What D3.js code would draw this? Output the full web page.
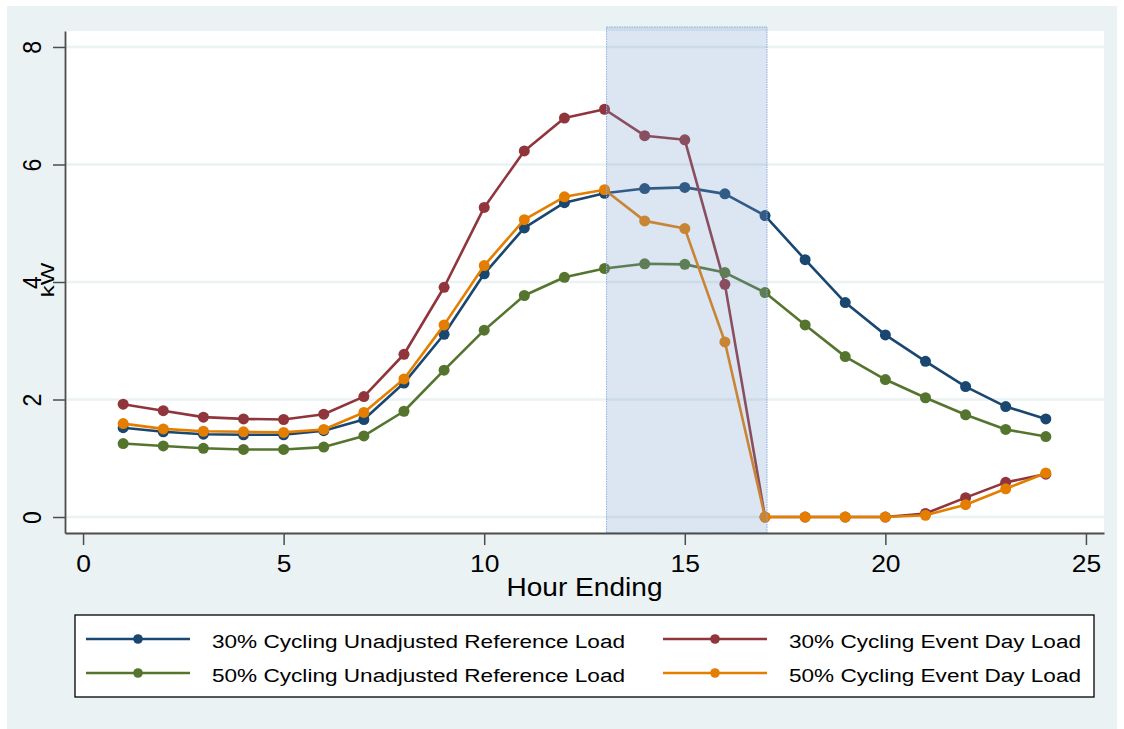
<!DOCTYPE html>
<html>
<head>
<meta charset="utf-8">
<script src="https://cdn.jsdelivr.net/npm/d3@7"></script>
<style>
  html, body { margin: 0; padding: 0; background: #ffffff; }
  svg { display: block; font-family: "Liberation Sans", Arial, sans-serif; }
</style>
</head>
<body>
<svg id="chart" width="1124" height="729"></svg>
<script>
// =======================
//  Data
// =======================

var hours = d3.range(1, 25);

var ref30   = [1.52, 1.45, 1.41, 1.40, 1.40, 1.47, 1.66, 2.28, 3.11, 4.14, 4.92, 5.35, 5.51, 5.59, 5.61, 5.50, 5.13, 4.38, 3.65, 3.10, 2.65, 2.22, 1.88, 1.67];
var event30 = [1.92, 1.81, 1.70, 1.67, 1.66, 1.75, 2.05, 2.77, 3.91, 5.27, 6.23, 6.79, 6.94, 6.49, 6.42, 3.96, 0, 0, 0, 0, 0.06, 0.33, 0.59, 0.73];
var ref50   = [1.25, 1.21, 1.17, 1.15, 1.15, 1.19, 1.38, 1.80, 2.50, 3.18, 3.77, 4.08, 4.23, 4.31, 4.30, 4.16, 3.82, 3.27, 2.73, 2.34, 2.03, 1.74, 1.49, 1.37];
var event50 = [1.59, 1.50, 1.46, 1.45, 1.44, 1.49, 1.78, 2.35, 3.27, 4.28, 5.06, 5.45, 5.57, 5.04, 4.91, 2.98, 0, 0, 0, 0, 0.03, 0.21, 0.48, 0.75];

var seriesNames = [
    "30% Cycling Unadjusted Reference Load",
    "30% Cycling Event Day Load",
    "50% Cycling Unadjusted Reference Load",
    "50% Cycling Event Day Load"
];
var seriesValues = [ref30, event30, ref50, event50];
var seriesColors = ["#1a476f", "#90353b", "#55752f", "#e37e00"];

var xTicks = [0, 5, 10, 15, 20, 25];
var yTicks = [0, 2, 4, 6, 8];

// event window shading (hours 13-17)
var shadeStart = 13.05, shadeEnd = 17.05, shadeLow = -0.272, shadeHigh = 8.34;

// =======================
//  Layout
// =======================

var svg = d3.select("#chart");
var plotL = 65, plotR = 1104, plotT = 31, plotB = 533;
var bgColor = "#eaf2f3";

var x = d3.scaleLinear().domain([-0.45, 25.45]).range([plotL, plotR]);
var y = d3.scaleLinear().domain([-0.272, 8.272]).range([plotB, plotT]);

// outer background and plot region
svg.append("rect")
    .attr("x", 7).attr("y", 6)
    .attr("width", 1110).attr("height", 723)
    .style("fill", bgColor);

svg.append("rect")
    .attr("x", plotL).attr("y", plotT)
    .attr("width", plotR - plotL).attr("height", plotB - plotT)
    .style("fill", "#ffffff");

// gridlines
svg.append("g")
    .selectAll("line")
    .data(yTicks)
    .join("line")
    .attr("x1", plotL).attr("x2", plotR)
    .attr("y1", d => y(d)).attr("y2", d => y(d))
    .style("stroke", bgColor)
    .style("stroke-width", 2.5);

// ========================
// Lines and markers
// ========================

var line = d3.line()
    .x((d, i) => x(hours[i]))
    .y(d => y(d));

var series = svg.append("g")
    .selectAll("g")
    .data(seriesValues)
    .join("g");

series.append("path")
    .attr("d", d => line(d))
    .style("fill", "none")
    .style("stroke", (d, i) => seriesColors[i])
    .style("stroke-width", 2.6)
    .style("stroke-linejoin", "round");

series.each(function(vals, i) {
    d3.select(this).selectAll("circle")
        .data(vals)
        .join("circle")
        .attr("cx", (d, j) => x(hours[j]))
        .attr("cy", d => y(d))
        .attr("r", 5.5)
        .style("fill", seriesColors[i]);
});

// shaded event window, drawn over the lines (semi-transparent)
svg.append("rect")
    .attr("x", x(shadeStart))
    .attr("y", y(shadeHigh))
    .attr("width", x(shadeEnd) - x(shadeStart))
    .attr("height", y(shadeLow) - y(shadeHigh))
    .style("fill", "rgb(118,156,204)")
    .style("fill-opacity", 0.26)
    .style("stroke", "#8eaedb")
    .style("stroke-width", 1)
    .style("stroke-dasharray", "1.5,1");

// ========================
// Axes
// ========================

var axisColor = "#4d4d4d";

var xAxis = svg.append("g")
    .attr("transform", "translate(0," + plotB + ")")
    .call(d3.axisBottom(x).tickValues(xTicks).tickSize(12).tickSizeOuter(0).tickPadding(11));

var yAxis = svg.append("g")
    .attr("transform", "translate(" + plotL + ",0)")
    .call(d3.axisLeft(y).tickValues(yTicks).tickSize(12).tickSizeOuter(0));

[xAxis, yAxis].forEach(function(ax) {
    ax.select(".domain").style("stroke", axisColor).style("stroke-width", 1.8);
    ax.selectAll(".tick line").style("stroke", axisColor).style("stroke-width", 1.5);
    ax.selectAll("text").style("font-size", "23px").style("fill", "#000").style("font-family", null);
});

xAxis.selectAll("text").attr("transform", "scale(1.15,1)");

yAxis.selectAll("text")
    .attr("x", 0)
    .attr("dy", null)
    .attr("y", -22)
    .attr("transform", "scale(1.1,1) rotate(-90)")
    .style("text-anchor", "middle");

// axis titles
svg.append("text")
    .attr("x", (plotL + plotR) / 2)
    .attr("y", 596)
    .attr("text-anchor", "middle")
    .attr("textLength", 156)
    .attr("lengthAdjust", "spacingAndGlyphs")
    .style("font-size", "25px")
    .text("Hour Ending");

svg.append("text")
    .attr("transform", "translate(54,280) scale(0.8,1) rotate(-90)")
    .attr("text-anchor", "middle")
    .style("font-size", "24px")
    .text("kW");

// ========================
// Legend
// ========================

var legend = svg.append("g");

legend.append("rect")
    .attr("x", 75).attr("y", 615)
    .attr("width", 1019).attr("height", 82)
    .style("fill", "#ffffff")
    .style("stroke", "#000")
    .style("stroke-width", 1.3);

var legendCols = [86, 663];
var legendRows = [639, 673];
var legendTextLen = [413, 292];

var items = legend.selectAll("g.item")
    .data(seriesNames)
    .join("g")
    .attr("class", "item")
    .attr("transform", (d, i) => "translate(" + legendCols[i % 2] + "," + legendRows[Math.floor(i / 2)] + ")");

items.append("line")
    .attr("x1", 0).attr("x2", 104)
    .style("stroke", (d, i) => seriesColors[i])
    .style("stroke-width", 2.6);

items.append("circle")
    .attr("cx", 52).attr("r", 4.8)
    .style("fill", (d, i) => seriesColors[i]);

items.append("text")
    .attr("x", 126)
    .attr("y", 8.5)
    .attr("textLength", (d, i) => legendTextLen[i % 2])
    .attr("lengthAdjust", "spacingAndGlyphs")
    .style("font-size", "18px")
    .text(d => d);
</script>
</body>
</html>
